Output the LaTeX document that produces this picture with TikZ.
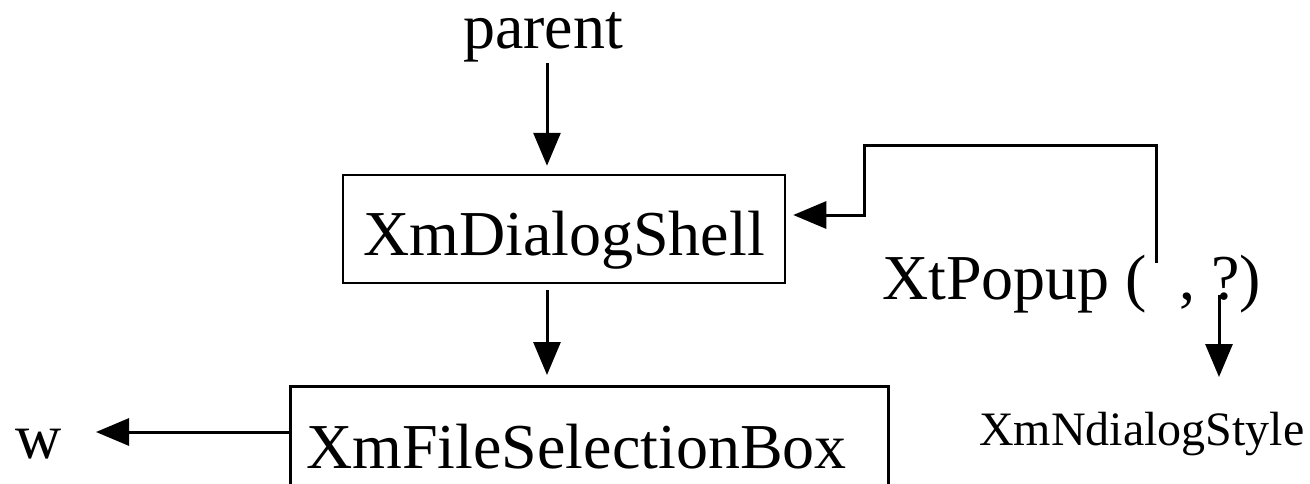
\documentclass[tikz,border=0pt]{standalone}
\usepackage{fontspec}
\setmainfont{Liberation Serif}
\usetikzlibrary{arrows.meta}
\begin{document}
\begin{tikzpicture}[x=1pt,y=-1pt,
  arr/.style={line width=3pt,-{Triangle[length=33pt,width=27pt]}},
  big/.style={font=\fontsize{64pt}{72pt}\selectfont, inner sep=0pt},
  small/.style={font=\fontsize{48pt}{54pt}\selectfont, inner sep=0pt},
  box/.style={draw, line width=2.5pt, big}]
\useasboundingbox (0,0) rectangle (1310,483);
\clip (0,0) rectangle (1310,483);
% nodes
\node[big, anchor=base] (parent) at (543,48) {parent};
\node[box, minimum width=442pt, minimum height=108pt, text height=52pt, text depth=0pt] (shell) at (564,229) {XmDialogShell};
\node[box, anchor=north west, text width=566pt, inner xsep=16pt, inner ysep=0pt, align=left, text height=82pt, text depth=50pt] (fsb) at (289,385) {XmFileSelectionBox};
\node[big, anchor=base west] (w) at (15,458) {w};
\node[big, anchor=base west] (popup) at (882,299) {XtPopup (\enspace, ?)};
\node[small, anchor=base west] (style) at (979,445) {XmNdialogStyle};
% coordinates
\coordinate (pa) at (547,63);
\coordinate (sa) at (547,290);
\coordinate (wt) at (96,432);
\coordinate (b1) at (1156,263);
\coordinate (b2) at (864,145);
\coordinate (b3) at (864,215);
\coordinate (sq) at (1219,295);
\coordinate (st) at (1219,377);
% connectors
\draw[arr, shorten >=8pt] (pa) -- (pa |- shell.north);
\draw[arr, shorten >=10pt] (sa) -- (sa |- fsb.north);
\draw[arr] (wt -| fsb.west) -- (wt);
\draw[arr, line join=miter, shorten >=7pt] (b1) |- (b2) -- (b3) -- (b3 -| shell.east);
\draw[arr] (sq) -- (st);
\end{tikzpicture}
\end{document}
